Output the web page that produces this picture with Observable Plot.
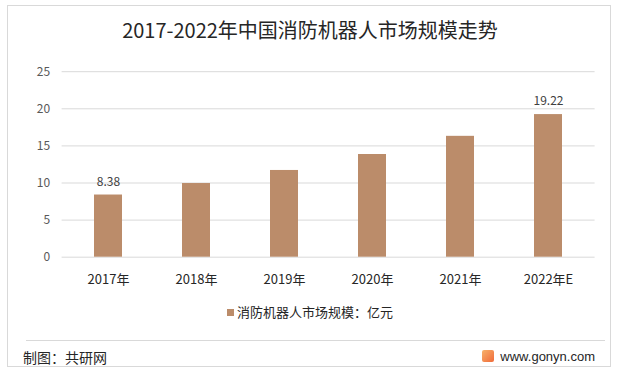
<!DOCTYPE html>
<html>
<head>
<meta charset="utf-8">
<script src="https://cdn.jsdelivr.net/npm/d3@7"></script>
<script src="https://cdn.jsdelivr.net/npm/@observablehq/plot@0.6"></script>
<style>
  html, body { margin: 0; padding: 0; background: #fff; }
  #wrap { position: relative; width: 620px; height: 375px; overflow: hidden;
          font-family: "Noto Sans CJK SC", "Noto Sans", sans-serif; }
  #frame { position: absolute; left: 7px; top: 5px; width: 604px; height: 362px;
           border: 1px solid #d9d9d9; box-sizing: border-box; }
  #title { position: absolute; left: 0; width: 620px; top: 16px; text-align: center;
           font-size: 20px; color: #262626; line-height: 28px; }
  #chart { position: absolute; left: 0; top: 0; }
  #legend { position: absolute; left: 0; width: 620px; top: 303px; text-align: center;
            font-size: 13px; color: #262626; line-height: 18px; }
  #legend .sw { display: inline-block; width: 7px; height: 7px; background: #bb8c6a;
                margin-right: 3px; vertical-align: 1px; }
  #sep { position: absolute; left: 26px; width: 579px; top: 340px; height: 1px; background: #d9d9d9; }
  #foot { position: absolute; left: 23px; top: 347px; font-size: 14px; color: #262626; line-height: 20px; }
  #site { position: absolute; right: 25px; top: 347px; font-size: 13px; color: #262626; line-height: 20px;
          font-family: "Liberation Sans", Arial, sans-serif; }
  #site .logo { display: inline-block; width: 12px; height: 12px; margin-right: 6px; vertical-align: -1px;
                background: linear-gradient(135deg, #f7b26a, #f06a3a); border-radius: 2px; }
</style>
</head>
<body>
<div id="wrap">
  <div id="frame"></div>
  <div id="chart"></div>
  <div id="title"></div>
  <div id="legend"></div>
  <div id="sep"></div>
  <div id="foot"></div>
  <div id="site"></div>
</div>
<script>
const titleText = "2017-2022年中国消防机器人市场规模走势";
const categories = ["2017年", "2018年", "2019年", "2020年", "2021年", "2022年E"];
const values = [8.38, 9.93, 11.69, 13.84, 16.29, 19.22];
const labeledCategories = ["2017年", "2022年E"];
const yTicks = [0, 5, 10, 15, 20, 25];
const seriesName = "消防机器人市场规模：亿元";
const sourceText = "制图：共研网";
const siteText = "www.gonyn.com";

const data = categories.map((c, i) => ({ cat: c, value: values[i] }));
const labeled = data.filter(d => labeledCategories.includes(d.cat));

const barColor = "#bb8c6a";

const chart = Plot.plot({
  width: 620,
  height: 300,
  marginTop: 71.2,
  marginBottom: 43.3,
  marginLeft: 61.6,
  marginRight: 25.4,
  style: { fontFamily: '"Noto Sans CJK SC", "Noto Sans", sans-serif', background: "transparent", overflow: "visible" },
  x: { domain: categories, paddingInner: 0.685, paddingOuter: 0.3425, label: null },
  y: { domain: [0, 25], label: null },
  marks: [
    Plot.gridY(yTicks, { stroke: "#d9d9d9", strokeOpacity: 1, strokeWidth: 1 }),
    Plot.barY(data, { x: "cat", y: "value", fill: barColor }),
    Plot.text(labeled, { x: "cat", y: "value", text: d => d.value.toFixed(2), dy: -13,
                         fontSize: 12, fill: "#404040" }),
    Plot.axisY(yTicks, { tickSize: 0, tickPadding: 12, fontSize: 12, fill: "#595959", label: null }),
    Plot.axisX({ tickSize: 0, tickPadding: 18, fontSize: 13, fill: "#262626", label: null })
  ]
});
document.getElementById("chart").appendChild(chart);
document.getElementById("title").textContent = titleText;
document.getElementById("legend").innerHTML = '<span class="sw"></span>' + seriesName;
document.getElementById("foot").textContent = sourceText;
document.getElementById("site").innerHTML = '<span class="logo"></span>' + siteText;
</script>
</body>
</html>
